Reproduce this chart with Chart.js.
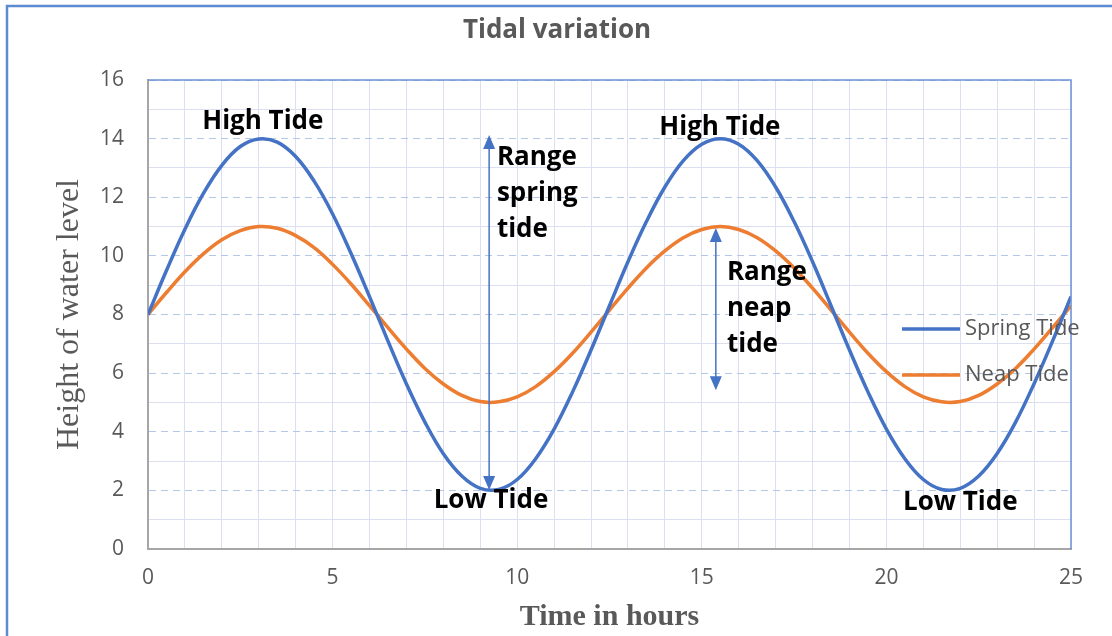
<!DOCTYPE html>
<html lang="en">
<head>
  <meta charset="UTF-8">
  <title>Tidal variation</title>
  <script src="https://cdn.jsdelivr.net/npm/chart.js"></script>
  <style>
    html, body { margin: 0; padding: 0; background: #fff; }
    #wrap { width: 1112px; height: 636px; position: relative; }
  </style>
</head>
<body>
<div id="wrap"><canvas id="tideChart" width="1112" height="636"></canvas></div>
<script>
  // values, every half hour
  const hours = [0, 0.5, 1, 1.5, 2, 2.5, 3, 3.5, 4, 4.5, 5, 5.5, 6, 6.5, 7, 7.5, 8, 8.5, 9, 9.5,
    10, 10.5, 11, 11.5, 12, 12.5, 13, 13.5, 14, 14.5, 15, 15.5, 16, 16.5, 17, 17.5, 18, 18.5, 19, 19.5,
    20, 20.5, 21, 21.5, 22, 22.5, 23, 23.5, 24, 24.5, 25];
  const springTide = [8.00, 9.50, 10.91, 12.13, 13.09, 13.73, 13.99, 13.88, 13.39, 12.55, 11.43, 10.08, 8.61, 7.09, 5.63, 4.33, 3.25, 2.49, 2.07, 2.03,
    2.37, 3.08, 4.09, 5.36, 6.79, 8.30, 9.80, 11.17, 12.35, 13.25, 13.81, 14.00, 13.81, 13.25, 12.35, 11.17, 9.80, 8.30, 6.79, 5.36,
    4.09, 3.08, 2.37, 2.03, 2.07, 2.49, 3.26, 4.33, 5.64, 7.09, 8.61];
  const neapTide = [8.00, 8.75, 9.46, 10.07, 10.55, 10.86, 11.00, 10.94, 10.69, 10.28, 9.71, 9.04, 8.30, 7.55, 6.82, 6.16, 5.63, 5.24, 5.03, 5.02,
    5.19, 5.54, 6.05, 6.68, 7.40, 8.15, 8.90, 9.59, 10.17, 10.62, 10.90, 11.00, 10.90, 10.62, 10.17, 9.59, 8.90, 8.15, 7.40, 6.68,
    6.05, 5.54, 5.19, 5.02, 5.03, 5.24, 5.63, 6.16, 6.82, 7.55, 8.30];
  const seriesNames = ['Spring Tide', 'Neap Tide'];
  const xTickLabels = [0, 5, 10, 15, 20, 25];
  const yTickLabels = [0, 2, 4, 6, 8, 10, 12, 14, 16];

  const chartTitle = 'Tidal variation';
  const BLUE = '#4472c4';
  const ORANGE = '#ed7d31';
  const GREY = '#595959';

  // callouts placed in data units
  const notes = [
    { text: ['High Tide'], x: 3.11, y: 14.57, align: 'center' },
    { text: ['High Tide'], x: 15.49, y: 14.36, align: 'center' },
    { text: ['Low Tide'], x: 9.29, y: 1.64, align: 'center' },
    { text: ['Low Tide'], x: 22.0, y: 1.57, align: 'center' },
    { text: ['Range', 'spring', 'tide'], x: 9.45, y: 13.34, align: 'left' },
    { text: ['Range', 'neap', 'tide'], x: 15.68, y: 9.42, align: 'left' }
  ];
  const arrows = [
    { x: 9.24, from: 2.01, to: 14.12 },
    { x: 15.38, from: 5.42, to: 10.95 }
  ];

  function points(ys) {
    return hours.map((h, i) => ({ x: h, y: ys[i] }));
  }

  const decor = {
    id: 'decor',
    afterDraw(chart) {
      const ctx = chart.ctx;
      const a = chart.chartArea;
      const xs = chart.scales.x, ys = chart.scales.y;
      ctx.save();

      // outer frame (only top/left visible)
      ctx.strokeStyle = '#5b8bd0';
      ctx.lineWidth = 2.5;
      ctx.beginPath();
      ctx.moveTo(1112, 6);
      ctx.lineTo(7, 6);
      ctx.lineTo(7, 636);
      ctx.stroke();

      // plot area top/right edge
      ctx.strokeStyle = '#6d93d6';
      ctx.lineWidth = 1.5;
      ctx.beginPath();
      ctx.moveTo(a.left, a.top);
      ctx.lineTo(a.right, a.top);
      ctx.lineTo(a.right, a.bottom);
      ctx.stroke();

      // title
      ctx.fillStyle = GREY;
      ctx.font = 'bold 26px "Open Sans"';
      ctx.textAlign = 'center';
      ctx.textBaseline = 'middle';
      ctx.fillText(chartTitle, 557, 31);

      // arrows
      ctx.strokeStyle = BLUE;
      ctx.fillStyle = BLUE;
      ctx.lineWidth = 1.5;
      arrows.forEach(ar => {
        const px = xs.getPixelForValue(ar.x);
        const y1 = ys.getPixelForValue(ar.from);
        const y2 = ys.getPixelForValue(ar.to);
        ctx.beginPath();
        ctx.moveTo(px, y1 - 12);
        ctx.lineTo(px, y2 + 12);
        ctx.stroke();
        ctx.beginPath();
        ctx.moveTo(px, y2);
        ctx.lineTo(px - 6, y2 + 14);
        ctx.lineTo(px + 6, y2 + 14);
        ctx.closePath();
        ctx.fill();
        ctx.beginPath();
        ctx.moveTo(px, y1);
        ctx.lineTo(px - 6, y1 - 14);
        ctx.lineTo(px + 6, y1 - 14);
        ctx.closePath();
        ctx.fill();
      });

      // callout text
      ctx.fillStyle = '#000';
      ctx.font = 'bold 26px "Open Sans"';
      notes.forEach(n => {
        ctx.textAlign = n.align;
        const px = xs.getPixelForValue(n.x);
        let py = ys.getPixelForValue(n.y);
        n.text.forEach(line => {
          ctx.fillText(line, px, py);
          py += 36;
        });
      });

      // legend
      const legendY = [329, 375];
      const colors = [BLUE, ORANGE];
      ctx.font = '22px "Open Sans"';
      ctx.textAlign = 'left';
      seriesNames.forEach((name, i) => {
        ctx.strokeStyle = colors[i];
        ctx.lineWidth = 3.5;
        ctx.beginPath();
        ctx.moveTo(902, legendY[i]);
        ctx.lineTo(960, legendY[i]);
        ctx.stroke();
        ctx.fillStyle = GREY;
        ctx.fillText(name, 965, legendY[i]);
      });
      ctx.restore();
    }
  };

  const ctx = document.getElementById('tideChart').getContext('2d');
  new Chart(ctx, {
    type: 'line',
    data: {
      datasets: [
        { label: seriesNames[0], data: points(springTide), borderColor: BLUE, borderWidth: 3.5, pointRadius: 0, tension: 0.4, fill: false },
        { label: seriesNames[1], data: points(neapTide), borderColor: ORANGE, borderWidth: 3.5, pointRadius: 0, tension: 0.4, fill: false }
      ]
    },
    options: {
      responsive: false,
      animation: false,
      layout: { padding: { left: 0, right: 41, top: 80, bottom: 0 } },
      plugins: { legend: { display: false }, title: { display: false }, tooltip: { enabled: false } },
      scales: {
        x: {
          type: 'linear',
          min: 0, max: 25,
          afterFit: s => { s.height = 87; },
          ticks: {
            stepSize: 1, autoSkip: false, maxRotation: 0, padding: 16,
            color: GREY, font: { family: 'Open Sans', size: 21 },
            callback: v => xTickLabels.includes(v) ? String(v) : ''
          },
          grid: { drawTicks: false, color: '#dcdff2', lineWidth: 1 },
          border: { color: '#a6a6a6', width: 2 },
          title: {
            display: true, text: 'Time in hours', color: GREY,
            font: { family: 'Liberation Serif', size: 30, weight: 'bold' },
            padding: { top: 0, bottom: 1 }
          }
        },
        y: {
          min: 0, max: 16,
          afterFit: s => { s.width = 148; },
          ticks: {
            stepSize: 1, autoSkip: false, padding: 24,
            color: GREY, font: { family: 'Open Sans', size: 21 },
            callback: v => yTickLabels.includes(v) ? String(v) : ''
          },
          grid: {
            drawTicks: false, lineWidth: 1,
            color: c => (c.tick && c.tick.value % 2 === 0) ? '#b4c7e7' : '#dcdff0'
          },
          border: {
            color: '#a6a6a6', width: 2,
            dash: c => (c.tick && c.tick.value % 2 === 0) ? [7, 5] : []
          },
          title: {
            display: true, text: 'Height of water level', color: GREY,
            font: { family: 'Liberation Serif', size: 32 },
            padding: { top: 50, bottom: 0 }
          }
        }
      }
    },
    plugins: [decor]
  });
</script>
</body>
</html>
